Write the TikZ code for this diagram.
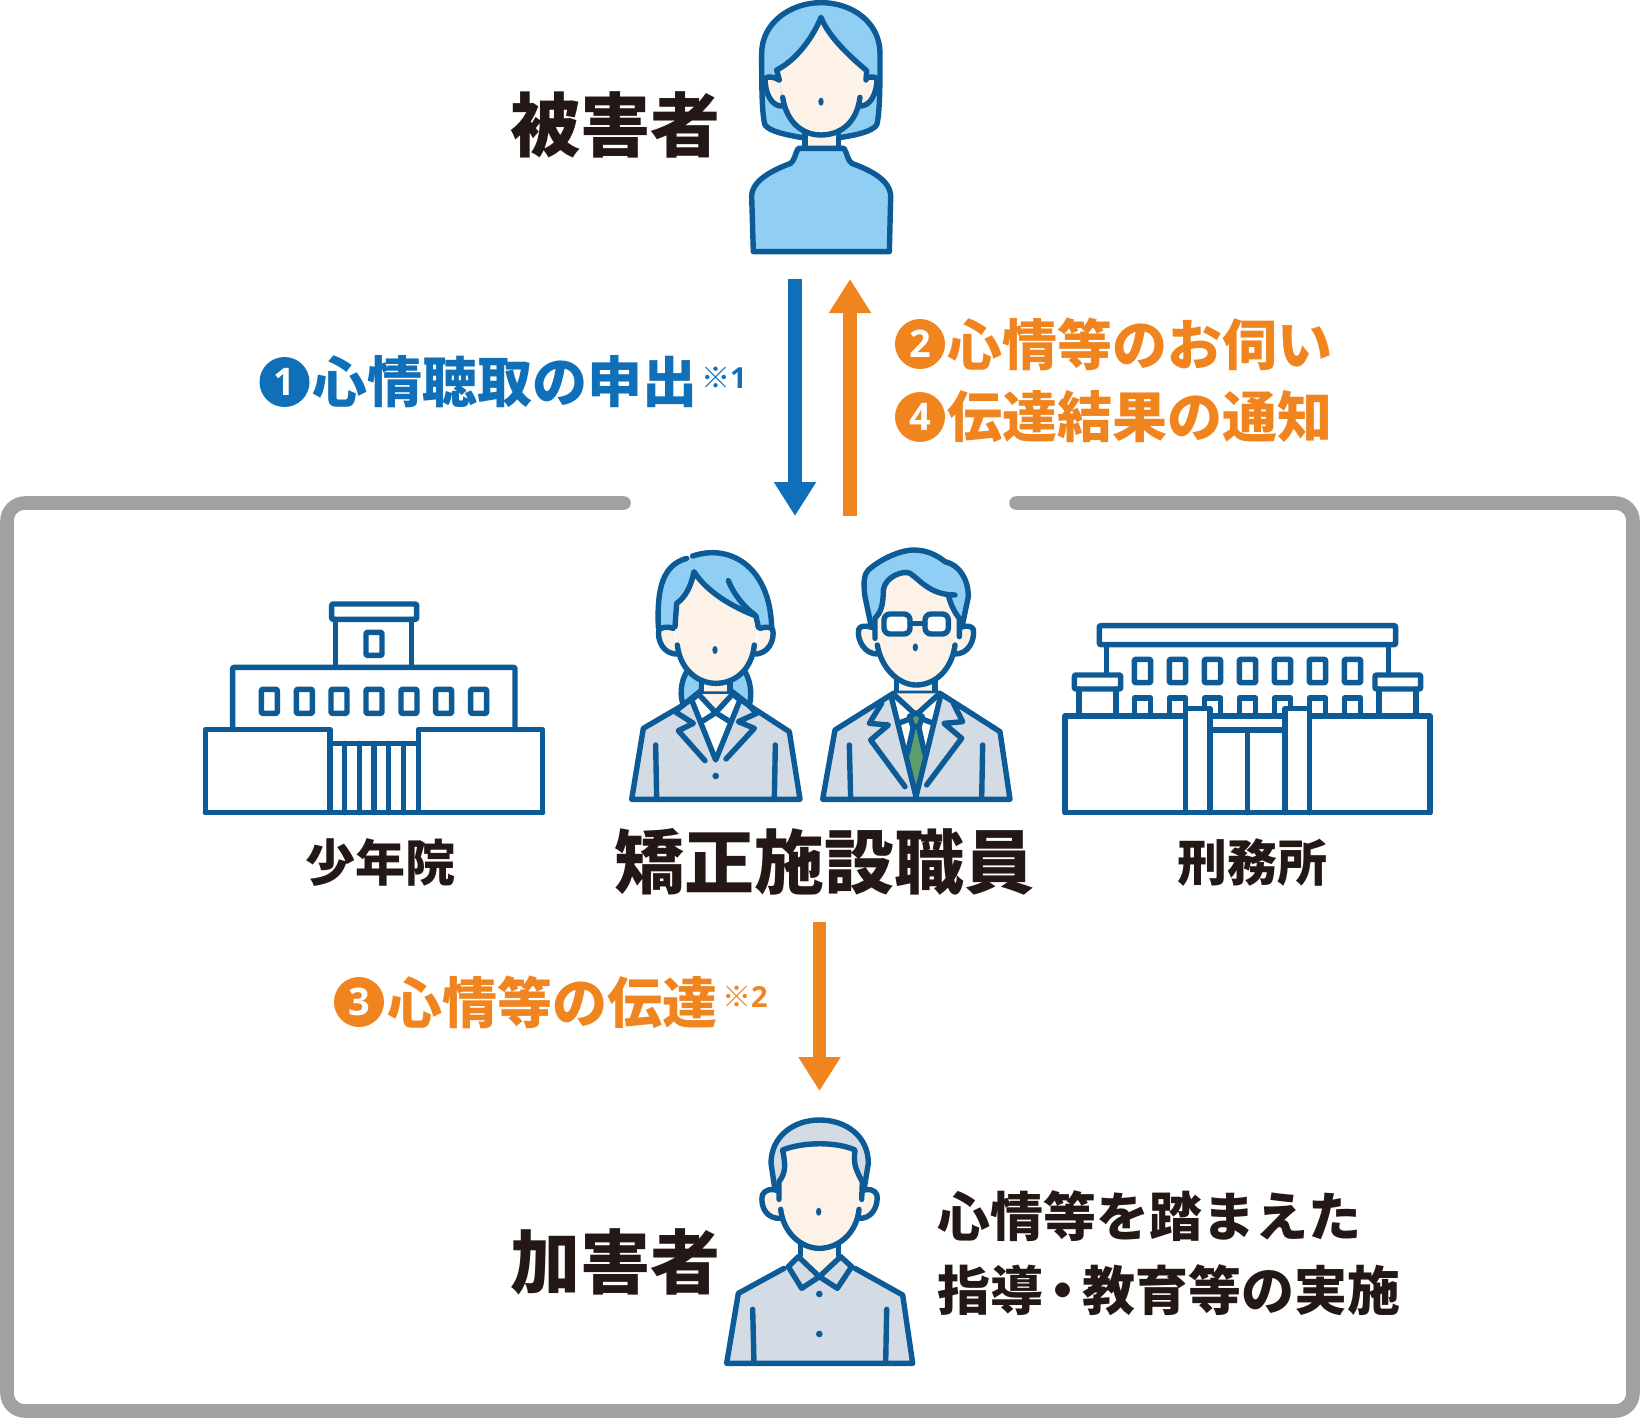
\documentclass[tikz,border=0pt]{standalone}
\usepackage{fontspec}
\setmainfont{Noto Sans CJK JP}
\newfontfamily\digitfont{Open Sans}
\usetikzlibrary{arrows.meta}
\definecolor{ink}{HTML}{0C5A96}
\definecolor{hairblue}{HTML}{90CEF3}
\definecolor{skin}{HTML}{FDF2E7}
\definecolor{suit}{HTML}{D3DCE5}
\definecolor{tiegreen}{HTML}{5F9C6C}
\definecolor{framegray}{HTML}{A0A1A1}
\definecolor{textblack}{HTML}{231815}
\definecolor{stepblue}{HTML}{0F70B9}
\definecolor{steporange}{HTML}{F08520}
\tikzset{
  lbl/.style={font=\bfseries\fontsize{#1}{#1}\selectfont,text=textblack,inner sep=0pt},
  stepnum/.style={circle,minimum size=50pt,inner sep=0pt,text=white,font=\digitfont\bfseries\fontsize{38}{38}\selectfont},
  outline/.style={draw=ink,line width=5.4pt,line cap=round,line join=round},
  note/.style={font=\fontsize{29}{29}\selectfont,inner sep=0pt},
  zoomed/.style={shift={#1},x=0.33333pt,y=-0.33333pt},
  winbox/.style={outline,rounded corners=1pt,fill=white}
}
\begin{document}
\begin{tikzpicture}[x=1pt,y=-1pt]
  \useasboundingbox (0,0) rectangle (1640,1418);
  \draw[framegray,line width=13.6pt,line cap=round,rounded corners=18pt]
    (624,503) -- (7,503) -- (7,1411) -- (1633,1411) -- (1633,503) -- (1016,503);
  \draw
    (615,125) node[lbl=70] (victim){被害者}
    (615,1262) node[lbl=70] (offender){加害者}
    (824,862) node[lbl=70] (staff){矯正施設職員}
    (380,863) node[lbl=50] (juvenile){少年院}
    (1252,863) node[lbl=50] (prison){刑務所}
    (284.5,382) node[stepnum,fill=stepblue] (n1){1}
    (505,382) node[lbl=55,text=stepblue] (s1){心情聴取の申出}
    (724,378) node[note,text=stepblue] (r1){※{\digitfont\bfseries 1}}
    (920,344) node[stepnum,fill=steporange] (n2){2}
    (1140,344) node[lbl=55,text=steporange] (s2){心情等のお伺い}
    (920,417) node[stepnum,fill=steporange] (n4){4}
    (1140,417) node[lbl=55,text=steporange] (s4){伝達結果の通知}
    (359,1002) node[stepnum,fill=steporange] (n3){3}
    (552,1002) node[lbl=55,text=steporange] (s3){心情等の伝達}
    (745,997) node[note,text=steporange] (r2){※{\digitfont\bfseries 2}}
    (937,1216) node[lbl=53,anchor=west] (g1){心情等を踏まえた}
    (937,1290) node[lbl=53,anchor=west] (g2){指導\hspace{-7pt}・\hspace{-7pt}教育等の実施};
  \path
    (795,279) coordinate (a1) (795,516) coordinate (a2)
    (850,516) coordinate (b1) (850,279) coordinate (b2)
    (819.5,922) coordinate (c1) (819.5,1091) coordinate (c2);
  \begin{scope}[-{Triangle[width=40pt,length=34pt]}]
    \draw[stepblue,line width=14.5pt] (a1) to (a2);
    \draw[steporange,line width=14pt] (b1) to (b2);
    \draw[steporange,line width=13pt] (c1) to (c2);
  \end{scope}
  \begin{scope}[zoomed={(720,0)}]
    \draw[outline,fill=hairblue] (248,413) .. controls (200,405) and (150,395) .. (135,375) .. controls (125,340) and (125,250) .. (125,160) .. controls (125,70) and (210,8) .. (303,8) .. controls (400,8) and (480,70) .. (480,160) .. controls (480,250) and (480,340) .. (470,375) .. controls (455,395) and (410,405) .. (358,413);
    \fill[hairblue] (248,413) -- (358,413) -- (303,300) -- cycle;
    \draw[outline,fill=skin] (255,395) -- (255,445) -- (355,445) -- (355,395);
    \draw[outline,fill=hairblue] (100,755) -- (95,590) .. controls (95,540) and (160,510) .. (212,490) .. controls (225,480) and (225,460) .. (235,445) -- (372,445) .. controls (382,460) and (382,480) .. (395,490) .. controls (450,510) and (512,540) .. (512,590) -- (508,755) -- cycle;
    \draw[outline,fill=skin] (178,240) .. controls (160,230) and (145,228) .. (135,235) .. controls (135,280) and (155,322) .. (190,318);
    \draw[outline,fill=skin] (428,240) .. controls (446,230) and (461,228) .. (471,235) .. controls (471,280) and (451,322) .. (416,318);
    \fill[skin] (178,240) -- (170,210) .. controls (230,180) and (280,110) .. (303,52) .. controls (325,110) and (390,170) .. (440,212) -- (438,240) -- (420,292) .. controls (410,370) and (360,405) .. (303,405) .. controls (250,405) and (200,370) .. (188,292) -- cycle;
    \draw[outline] (178,240) -- (170,210) .. controls (230,180) and (280,110) .. (303,52) .. controls (325,110) and (390,170) .. (440,212) -- (438,240);
    \draw[outline] (188,292) .. controls (200,370) and (250,405) .. (303,405) .. controls (360,405) and (410,370) .. (420,292);
    \fill[ink] (303,305) ellipse [x radius=8,y radius=12];
  \end{scope}
  \begin{scope}[zoomed={(620,540)}]
    \draw[outline,fill=hairblue] (200,395) .. controls (180,430) and (180,470) .. (190,495) -- (245,450) -- (245,425);
    \draw[outline,fill=hairblue] (375,395) .. controls (395,430) and (395,470) .. (388,495) -- (330,450) -- (330,425);
    \fill[hairblue] (115,262) .. controls (110,140) and (130,75) .. (200,55) -- (218,48) .. controls (330,10) and (450,80) .. (455,262) -- (287,300) -- cycle;
    \draw[outline] (115,262) .. controls (110,140) and (130,75) .. (200,55);
    \draw[outline] (218,48) .. controls (330,10) and (450,80) .. (455,262);
    \draw[outline,fill=skin] (245,425) -- (245,470) -- (330,470) -- (330,425);
    \draw[outline,fill=suit] (35,778) -- (70,565) -- (190,495) -- (235,462) -- (338,462) -- (385,495) -- (508,575) -- (540,778) -- cycle;
    \fill[skin] (235,462) -- (287,515) -- (338,462) -- cycle;
    \fill[white] (215,480) -- (287,660) -- (360,480) -- (338,465) -- (287,515) -- (235,465) -- cycle;
    \draw[outline] (235,462) -- (287,518) -- (338,462);
    \draw[outline] (215,480) -- (235,462) (360,480) -- (338,462);
    \draw[outline] (245,545) -- (287,518) -- (330,545);
    \draw[outline] (215,480) -- (287,660) -- (360,480);
    \draw[outline] (190,495) -- (165,515) -- (220,550) -- (175,572) -- (255,662);
    \draw[outline] (385,495) -- (410,520) -- (355,545) -- (403,565) -- (318,657);
    \draw[outline] (107,615) -- (110,778) (466,615) -- (463,778);
    \fill[ink] (287,708) circle [radius=10];
    \draw[outline,fill=skin] (160,265) .. controls (145,260) and (130,260) .. (117,268) .. controls (110,300) and (130,345) .. (175,342);
    \draw[outline,fill=skin] (420,265) .. controls (435,260) and (450,260) .. (458,268) .. controls (465,300) and (445,345) .. (400,342);
    \fill[skin] (165,260) -- (170,190) .. controls (200,170) and (215,130) .. (222,95) .. controls (250,140) and (310,190) .. (408,228) -- (415,262) -- (403,315) .. controls (395,390) and (345,430) .. (287,430) .. controls (235,430) and (180,390) .. (172,315) -- cycle;
    \draw[outline] (165,260) -- (170,190) .. controls (200,170) and (215,130) .. (222,95) .. controls (250,140) and (310,190) .. (408,228) -- (415,262);
    \draw[outline] (325,122) .. controls (340,160) and (370,200) .. (405,225);
    \draw[outline] (172,315) .. controls (180,390) and (235,430) .. (287,430) .. controls (345,430) and (395,390) .. (403,315);
    \fill[ink] (285,330) ellipse [x radius=8,y radius=12];
    \fill[hairblue] (755,265) -- (735,170) .. controls (728,120) and (735,100) .. (745,90) .. controls (790,50) and (850,30) .. (880,30) .. controls (920,30) and (950,45) .. (975,65) .. controls (1020,75) and (1045,120) .. (1045,170) -- (1025,265) -- cycle;
    \draw[outline] (755,265) -- (735,170) .. controls (728,120) and (735,100) .. (745,90) .. controls (790,50) and (850,30) .. (880,30) .. controls (920,30) and (950,45) .. (975,65) .. controls (1020,75) and (1045,120) .. (1045,170) -- (1025,265);
    \draw[outline,fill=skin] (830,420) -- (830,470) -- (945,470) -- (945,420);
    \draw[outline,fill=suit] (608,778) -- (645,570) -- (820,460) -- (960,460) -- (1140,575) -- (1170,778) -- cycle;
    \fill[skin] (820,460) -- (888,520) -- (960,460) -- cycle;
    \fill[white] (815,475) -- (888,530) -- (960,475) -- (888,770) -- cycle;
    \draw[outline] (820,462) -- (888,525) -- (957,462);
    \draw[outline] (888,530) -- (840,548) (888,530) -- (935,548);
    \fill[tiegreen] (880,560) -- (860,645) -- (888,770) -- (916,645) -- (896,560) -- cycle;
    \draw[outline] (880,560) -- (862,640) (896,560) -- (914,640);
    \draw[outline,fill=tiegreen] (868,530) -- (888,518) -- (907,530) -- (897,560) -- (879,560) -- cycle;
    \draw[outline] (815,475) -- (888,770) -- (960,475);
    \draw[outline] (785,490) -- (748,550) -- (805,555) -- (752,600) -- (855,740);
    \draw[outline] (1000,490) -- (1028,545) -- (972,550) -- (1025,595) -- (920,735);
    \draw[outline] (688,615) -- (692,778) (1088,615) -- (1085,778) (888,770) -- (888,778);
    \draw[outline,fill=skin] (755,262) .. controls (735,255) and (720,258) .. (716,268) .. controls (710,300) and (735,345) .. (775,342);
    \draw[outline,fill=skin] (1022,262) .. controls (1040,255) and (1055,258) .. (1060,268) .. controls (1065,300) and (1045,345) .. (1002,342);
    \fill[skin] (765,295) -- (765,235) .. controls (780,220) and (790,200) .. (790,150) .. controls (795,110) and (850,90) .. (870,100) .. controls (900,120) and (930,160) .. (985,165) .. controls (990,190) and (1005,220) .. (1018,235) -- (1018,290) -- (1005,315) .. controls (995,390) and (945,435) .. (888,435) .. controls (840,435) and (785,390) .. (772,315) -- cycle;
    \draw[outline] (765,295) -- (765,235) .. controls (780,220) and (790,200) .. (790,150) .. controls (795,110) and (850,90) .. (870,100) .. controls (900,120) and (930,165) .. (1005,165);
    \draw[outline] (985,165) .. controls (990,190) and (1005,220) .. (1018,235) -- (1018,290);
    \draw[outline] (772,315) .. controls (785,390) and (840,435) .. (888,435) .. controls (945,435) and (995,390) .. (1005,315);
    \draw[outline,fill=white,rounded corners=6pt] (792,222) rectangle (870,282);
    \draw[outline,fill=white,rounded corners=6pt] (915,222) rectangle (985,282);
    \draw[outline] (870,250) -- (915,250);
    \fill[ink] (886,322) ellipse [x radius=8,y radius=12];
  \end{scope}
  \begin{scope}[zoomed={(190,590)}]
    \draw[winbox] (425,42) rectangle (680,88);
    \draw[outline] (437,88) -- (437,232) (665,88) -- (665,232);
    \draw[winbox] (528,127) rectangle (576,196);
    \draw[outline,rounded corners=1pt] (128,418) -- (128,232) -- (975,232) -- (975,418);
    \foreach \wx in {214,319,423,528,633,737,842}
      \draw[winbox] (\wx,298) rectangle (\wx+48,370);
    \draw[outline] (420,460) -- (685,460);
    \foreach \px in {464,508,552,596,640}
      \draw[outline] (\px,460) -- (\px,668);
    \draw[outline] (46,418) rectangle (420,668);
    \draw[outline] (685,418) rectangle (1058,668);
    \draw[outline] (46,668) -- (1058,668);
  \end{scope}
  \begin{scope}[zoomed={(1050,610)}]
    \draw[winbox] (148,47) rectangle (1037,104);
    \draw[outline] (170,104) -- (170,195) (1015,104) -- (1015,195);
    \foreach \wx in {253,358,463,568,673,778,883} {
      \draw[winbox] (\wx,148) rectangle (\wx+49,218);
      \draw[outline] (\wx,318) -- (\wx,264) -- (\wx+49,264) -- (\wx+49,318);
    }
    \draw[winbox] (73,195) rectangle (212,237);
    \draw[winbox] (975,195) rectangle (1112,237);
    \draw[outline] (87,237) -- (87,318) (198,237) -- (198,318);
    \draw[outline] (987,237) -- (987,318) (1098,237) -- (1098,318);
    \draw[outline,fill=white] (407,608) -- (407,295) -- (480,295) -- (480,608);
    \draw[outline,fill=white] (705,608) -- (705,295) -- (778,295) -- (778,608);
    \draw[outline] (45,318) rectangle (407,608);
    \draw[outline] (778,318) rectangle (1140,608);
    \draw[outline] (480,318) -- (705,318) (480,360) -- (705,360) (593,360) -- (593,608);
    \draw[outline] (45,608) -- (1140,608);
  \end{scope}
  \begin{scope}[zoomed={(710,1100)}]
    \draw[outline,fill=suit] (195,270) -- (183,190) .. controls (183,110) and (250,60) .. (328,60) .. controls (410,60) and (475,110) .. (475,190) -- (462,270);
    \draw[outline,fill=skin] (272,435) -- (272,480) -- (385,480) -- (385,435);
    \fill[suit] (85,580) -- (222,505) -- (328,530) -- (435,505) -- (578,585) -- (608,790) -- (50,790) -- cycle;
    \draw[outline] (222,505) -- (85,580) -- (50,790) -- (608,790) -- (578,585) -- (435,505);
    \fill[skin] (265,470) -- (328,530) -- (392,470) -- cycle;
    \draw[outline,fill=suit] (265,470) -- (328,530) -- (275,565) -- (235,500) -- cycle;
    \draw[outline,fill=suit] (392,470) -- (328,530) -- (382,565) -- (425,500) -- cycle;
    \fill[ink] (328,582) circle [radius=10] (328,702) circle [radius=10];
    \draw[outline] (128,628) -- (132,790) (530,628) -- (527,790);
    \draw[outline,fill=skin] (205,272) .. controls (185,265) and (165,268) .. (157,285) .. controls (150,320) and (170,358) .. (212,355);
    \draw[outline,fill=skin] (455,272) .. controls (475,265) and (495,268) .. (501,285) .. controls (505,320) and (485,358) .. (445,355);
    \fill[skin] (207,298) -- (207,245) .. controls (230,215) and (225,190) .. (218,150) .. controls (280,125) and (380,125) .. (435,150) .. controls (430,190) and (435,205) .. (457,245) -- (455,298) -- (447,328) .. controls (440,400) and (385,445) .. (328,445) .. controls (275,445) and (220,400) .. (212,328) -- cycle;
    \draw[outline] (207,298) -- (207,245) .. controls (230,215) and (225,190) .. (218,150) .. controls (280,125) and (380,125) .. (435,150) .. controls (430,190) and (435,205) .. (457,245) -- (455,298);
    \draw[outline] (212,328) .. controls (220,400) and (275,445) .. (328,445) .. controls (385,445) and (440,400) .. (447,328);
    \fill[ink] (326,335) ellipse [x radius=8,y radius=12];
  \end{scope}
\end{tikzpicture}
\end{document}
